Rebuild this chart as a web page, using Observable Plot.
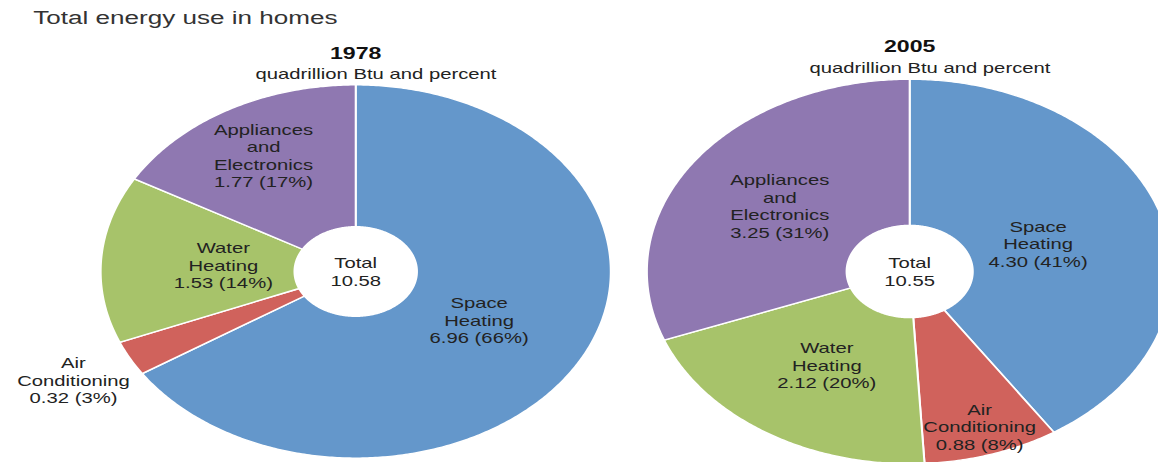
<!DOCTYPE html>
<html>
<head>
<meta charset="utf-8">
<script src="https://cdn.jsdelivr.net/npm/d3@7"></script>
<script src="https://cdn.jsdelivr.net/npm/@observablehq/plot@0.6"></script>
<style>
  html, body { margin: 0; padding: 0; background: #fff; overflow: hidden; }
  #wrap { width: 800px; transform: scaleX(1.4475); transform-origin: 0 0; font-family: "Liberation Sans", Arial, sans-serif; }
  #title { height: 34px; line-height: 36px; padding-left: 23px; font-size: 18px; color: #333; }
</style>
</head>
<body>
<div id="wrap">
  <div id="title">Total energy use in homes</div>
  <div id="chart"></div>
</div>
<script>
// ---- data ----
const categories = ["Space Heating", "Air Conditioning", "Water Heating", "Appliances and Electronics"];
const labelLines = ["Space\nHeating", "Air\nConditioning", "Water\nHeating", "Appliances\nand\nElectronics"];
const years = ["1978", "2005"];
const values1978 = [6.96, 0.32, 1.53, 1.77];
const values2005 = [4.30, 0.88, 2.12, 3.25];
const unitLabel = "quadrillion Btu and percent";

// ---- layout & style ----
const colors = ["#6497CB", "#D0625C", "#A7C36A", "#8F78B1"];
const pieLayout = [
  {cx: 0, r: 0.99, labelR: [0.55, 1.25, 0.52, 0.72]},
  {cx: 2.15, r: 1.02, labelR: [0.51, 0.85, 0.58, 0.6]}
];
const innerFrac = 0.24;
const W = 800, H = 428;
const xDomain = [-1.3778, 3.1166];
const yDomain = [-(H - 237) / 188.5, 237 / 188.5];

const seriesValues = [values1978, values2005];
const pie = d3.pie().sort(null).value(d => d.value);

const ringPts = [];
const labels = [];
const heads = [];
years.forEach((yr, pi) => {
  const L = pieLayout[pi];
  const rows = categories.map((c, i) => ({cat: c, value: seriesValues[pi][i], i}));
  const total = d3.sum(rows, d => d.value);
  const arcs = pie(rows);
  arcs.forEach(a => {
    const id = yr + "-" + a.data.cat;
    const ro = L.r, ri = L.r * innerFrac;
    const n = Math.max(2, Math.ceil((a.endAngle - a.startAngle) / 0.01));
    const pts = [];
    for (let k = 0; k <= n; k++) {
      const t = a.startAngle + (a.endAngle - a.startAngle) * k / n;
      pts.push([L.cx + ro * Math.sin(t), ro * Math.cos(t)]);
    }
    for (let k = n; k >= 0; k--) {
      const t = a.startAngle + (a.endAngle - a.startAngle) * k / n;
      pts.push([L.cx + ri * Math.sin(t), ri * Math.cos(t)]);
    }
    pts.push(pts[0]);
    pts.forEach(p => ringPts.push({id, cat: a.data.cat, x: p[0], y: p[1]}));
    const mid = (a.startAngle + a.endAngle) / 2;
    const lr = L.labelR[a.data.i] * L.r;
    const pct = Math.round(a.data.value / total * 100);
    labels.push({
      x: L.cx + lr * Math.sin(mid),
      y: lr * Math.cos(mid),
      text: labelLines[a.data.i] + "\n" + a.data.value.toFixed(2) + " (" + pct + "%)"
    });
  });
  labels.push({x: L.cx, y: 0, text: "Total\n" + total.toFixed(2)});
  heads.push({x: L.cx, y: 1.167 * L.r, text: yr, sub: false});
  heads.push({x: L.cx, y: 1.058 * L.r, text: unitLabel, sub: true});
});

const chart = Plot.plot({
  width: W,
  height: H,
  margin: 0,
  x: {domain: xDomain, axis: null},
  y: {domain: yDomain, axis: null},
  color: {domain: categories, range: colors},
  style: {fontFamily: "'Liberation Sans', Arial, sans-serif", background: "transparent", overflow: "visible"},
  marks: [
    Plot.line(ringPts, {x: "x", y: "y", z: "id", fill: "cat", stroke: "white", strokeWidth: 1.4, curve: "linear"}),
    Plot.text(labels, {x: "x", y: "y", text: "text", fontSize: 14, lineHeight: 1.25, fill: "#222"}),
    Plot.text(heads.filter(d => !d.sub), {x: "x", y: "y", text: "text", fontSize: 16, fontWeight: "bold", fill: "#111"}),
    Plot.text(heads.filter(d => d.sub), {x: "x", y: "y", text: "text", fontSize: 14, dx: 14, fill: "#222"})
  ]
});
document.getElementById("chart").appendChild(chart);
</script>
</body>
</html>
